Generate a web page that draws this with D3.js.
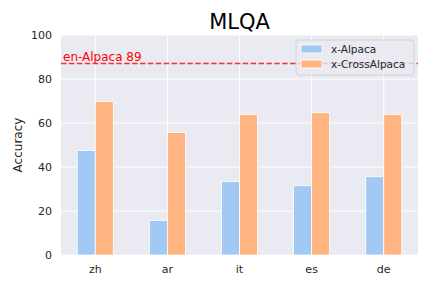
<!DOCTYPE html>
<html>
<head>
<meta charset="utf-8">
<script src="https://cdn.jsdelivr.net/npm/d3@7"></script>
<style>
  body { margin: 0; background: #fff; }
  text { font-family: "DejaVu Sans", sans-serif; }
</style>
</head>
<body>
<div id="chart"></div>
<script>
var languages = ["zh", "ar", "it", "es", "de"];
var seriesNames = ["x-Alpaca", "x-CrossAlpaca"];
var xAlpaca = [47.5, 15.7, 33.4, 31.5, 35.6];
var xCrossAlpaca = [69.8, 55.7, 63.8, 64.7, 63.8];
var yTicks = [0, 20, 40, 60, 80, 100];
var enAlpacaLine = 87;
var enAlpacaLabel = "en-Alpaca 89";

var colors = ["#a1c9f4", "#ffb482"];
var width = 432, height = 288;
var margin = { top: 35, right: 14, bottom: 33, left: 61 };

var svg = d3.select("#chart").append("svg")
  .attr("width", width)
  .attr("height", height);

var x = d3.scaleLinear()
  .domain([-0.475, languages.length - 1 + 0.475])
  .range([margin.left, width - margin.right]);
var y = d3.scaleLinear()
  .domain([0, 100])
  .range([height - margin.bottom, margin.top]);

// axes background
svg.append("rect")
  .attr("x", x.range()[0]).attr("y", y(100))
  .attr("width", x.range()[1] - x.range()[0])
  .attr("height", y(0) - y(100))
  .attr("fill", "#eaeaf2");

// grid
svg.append("g").selectAll("line.h")
  .data(yTicks).enter().append("line")
  .attr("x1", x.range()[0]).attr("x2", x.range()[1])
  .attr("y1", function(d) { return y(d); })
  .attr("y2", function(d) { return y(d); })
  .attr("stroke", "#fff").attr("stroke-width", 1);
svg.append("g").selectAll("line.v")
  .data(languages).enter().append("line")
  .attr("x1", function(d, i) { return x(i); })
  .attr("x2", function(d, i) { return x(i); })
  .attr("y1", y(0)).attr("y2", y(100))
  .attr("stroke", "#fff").attr("stroke-width", 1);

// bars
var barW = 0.25;
var series = [xAlpaca, xCrossAlpaca];
series.forEach(function(vals, s) {
  svg.append("g").selectAll("rect")
    .data(vals).enter().append("rect")
    .attr("x", function(d, i) { return x(i - barW + s * barW); })
    .attr("y", function(d) { return y(d); })
    .attr("width", x(barW) - x(0))
    .attr("height", function(d) { return y(0) - y(d); })
    .attr("fill", colors[s])
    .attr("stroke", "#fff").attr("stroke-width", 0.8);
});

// reference line
svg.append("line")
  .attr("x1", x.range()[0]).attr("x2", x.range()[1])
  .attr("y1", y(enAlpacaLine)).attr("y2", y(enAlpacaLine))
  .attr("stroke", "red").attr("stroke-opacity", 0.8).attr("stroke-width", 1.5)
  .attr("stroke-dasharray", "5.5,2.4");
svg.append("text")
  .attr("x", x.range()[0] + 2).attr("y", y(enAlpacaLine) - 3)
  .attr("fill", "red").attr("font-size", "12px")
  .text(enAlpacaLabel);

// tick labels
svg.append("g").selectAll("text")
  .data(yTicks).enter().append("text")
  .attr("x", x.range()[0] - 9)
  .attr("y", function(d) { return y(d); })
  .attr("dy", "0.35em")
  .attr("text-anchor", "end")
  .attr("font-size", "11px").attr("fill", "#262626")
  .text(function(d) { return d; });
svg.append("g").selectAll("text")
  .data(languages).enter().append("text")
  .attr("x", function(d, i) { return x(i); })
  .attr("y", y(0) + 18)
  .attr("text-anchor", "middle")
  .attr("font-size", "11px").attr("fill", "#262626")
  .text(function(d) { return d; });

// y label
svg.append("text")
  .attr("transform", "translate(22," + ((y(0) + y(100)) / 2) + ") rotate(-90)")
  .attr("text-anchor", "middle")
  .attr("font-size", "12px").attr("fill", "#262626")
  .text("Accuracy");

// title
svg.append("text")
  .attr("x", (x.range()[0] + x.range()[1]) / 2).attr("y", 29)
  .attr("text-anchor", "middle")
  .attr("font-size", "21px").attr("fill", "#000")
  .text("MLQA");

// legend
var lg = svg.append("g").attr("transform", "translate(296,40)");
lg.append("rect")
  .attr("width", 118).attr("height", 35).attr("rx", 3)
  .attr("fill", "#eaeaf2").attr("fill-opacity", 0.8)
  .attr("stroke", "#cccccc").attr("stroke-width", 0.8);
seriesNames.forEach(function(name, i) {
  lg.append("rect")
    .attr("x", 5).attr("y", 5 + i * 15)
    .attr("width", 21).attr("height", 8)
    .attr("fill", colors[i]).attr("stroke", "#fff").attr("stroke-width", 0.8);
  lg.append("text")
    .attr("x", 35).attr("y", 9 + i * 15)
    .attr("dy", "0.35em")
    .attr("font-size", "10.5px").attr("fill", "#262626")
    .text(name);
});
</script>
</body>
</html>
